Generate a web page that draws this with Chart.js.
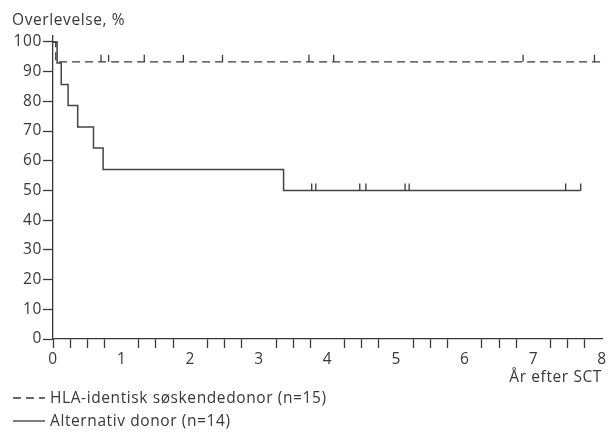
<!DOCTYPE html>
<html>
<head>
<meta charset="utf-8">
<script src="https://cdn.jsdelivr.net/npm/chart.js@4"></script>
<style>
  html, body { margin: 0; padding: 0; background: #fff; }
  #wrap { width: 610px; height: 432px; position: relative; }
</style>
</head>
<body>
<div id="wrap"><canvas id="chart"></canvas></div>
<script>
// Kaplan-Meier data (years after SCT, % survival)
const hlaTimes = [0, 0.04, 8];
const hlaSurv = [100, 93.3, 93.3];
const hlaCensored = [0.70, 0.81, 1.33, 1.90, 2.47, 3.73, 4.09, 6.85, 7.89];

const altTimes = [0, 0.06, 0.12, 0.22, 0.36, 0.59, 0.73, 3.36, 7.69];
const altSurv = [100, 92.9, 85.7, 78.6, 71.4, 64.3, 57.1, 50, 50];
const altCensored = [3.77, 3.83, 4.47, 4.56, 5.13, 5.19, 7.47, 7.69];

const yTicks = [0, 10, 20, 30, 40, 50, 60, 70, 80, 90, 100];
const xLabels = [0, 1, 2, 3, 4, 5, 6, 7, 8];

const legendLabels = ['HLA-identisk søskendedonor (n=15)', 'Alternativ donor (n=14)'];
const yTitle = 'Overlevelse, %';
const xTitle = 'År efter SCT';

const ink = '#383838';
const font = { family: "'Open Sans', 'Liberation Sans', sans-serif", size: 15.5 };
const spacing = '0.6px';

function survivalAt(times, surv, t) {
  let s = surv[0];
  for (let i = 0; i < times.length; i++) {
    if (times[i] <= t) s = surv[i];
  }
  return s;
}

// the reference typeface runs wider than Open Sans, so open it up a bit
const spacingPlugin = {
  id: 'spacing',
  beforeInit(chart) { chart.ctx.letterSpacing = spacing; },
  beforeDraw(chart) { chart.ctx.letterSpacing = spacing; },
};

// censor marks: small upward ticks on the curve
const censorPlugin = {
  id: 'censor',
  afterDatasetsDraw(chart) {
    const { ctx, scales: { x, y } } = chart;
    const groups = [
      { times: hlaTimes, surv: hlaSurv, marks: hlaCensored },
      { times: altTimes, surv: altSurv, marks: altCensored },
    ];
    ctx.save();
    ctx.strokeStyle = ink;
    ctx.lineWidth = 1.3;
    groups.forEach(g => {
      g.marks.forEach(t => {
        const px = x.getPixelForValue(t);
        const py = y.getPixelForValue(survivalAt(g.times, g.surv, t));
        ctx.beginPath();
        ctx.moveTo(px, py);
        ctx.lineTo(px, py - 7);
        ctx.stroke();
      });
    });
    ctx.restore();
  }
};

// y title at top-left and the two-row legend under the axis
const extrasPlugin = {
  id: 'extras',
  afterDraw(chart) {
    const ctx = chart.ctx;
    ctx.save();
    ctx.letterSpacing = spacing;
    ctx.fillStyle = ink;
    ctx.font = font.size + 'px ' + font.family;
    ctx.textBaseline = 'middle';
    ctx.textAlign = 'left';
    ctx.fillText(yTitle, 12, 21);

    const rows = [398, 421];
    chart.data.datasets.forEach((ds, i) => {
      ctx.strokeStyle = ink;
      ctx.lineWidth = 1.3;
      ctx.setLineDash(ds.borderDash || []);
      ctx.beginPath();
      ctx.moveTo(13, rows[i]);
      ctx.lineTo(45, rows[i]);
      ctx.stroke();
      ctx.setLineDash([]);
      ctx.fillText(legendLabels[i], 50, rows[i] + 1);
    });
    ctx.restore();
  }
};

new Chart(document.getElementById('chart'), {
  type: 'line',
  data: {
    datasets: [
      {
        label: legendLabels[0],
        data: hlaTimes.map((t, i) => ({ x: t, y: hlaSurv[i] })),
        stepped: 'before',
        borderColor: ink,
        borderWidth: 1.3,
        borderDash: [8, 5],
        pointRadius: 0,
        fill: false,
      },
      {
        label: legendLabels[1],
        data: altTimes.map((t, i) => ({ x: t, y: altSurv[i] })),
        stepped: 'before',
        borderColor: '#444',
        borderWidth: 1.5,
        pointRadius: 0,
        fill: false,
      },
    ]
  },
  options: {
    responsive: true,
    maintainAspectRatio: false,
    animation: false,
    layout: { padding: { left: 0, right: 8, top: 36, bottom: 45 } },
    plugins: {
      legend: { display: false },
      tooltip: { enabled: false },
    },
    scales: {
      x: {
        type: 'linear',
        min: 0,
        max: 8,
        afterFit: s => { s.height = 48; },
        border: { color: ink, width: 1.3 },
        grid: {
          drawOnChartArea: false,
          tickLength: 9,
          tickWidth: 1.3,
          // minor ticks every quarter year; integer years carry only a label
          tickColor: c => (c.tick && c.tick.value % 1 === 0 && c.tick.value !== 0) ? 'rgba(0,0,0,0)' : ink,
        },
        ticks: {
          stepSize: 0.25,
          autoSkip: false,
          maxRotation: 0,
          padding: 2,
          color: ink,
          font: font,
          callback: v => xLabels.includes(v) ? String(v) : '',
        },
        title: {
          display: true,
          text: xTitle,
          align: 'end',
          color: ink,
          font: font,
          padding: { top: 2, bottom: 0 },
        },
      },
      y: {
        min: 0,
        max: 102,
        afterFit: s => { s.width = 53; },
        afterBuildTicks: s => { s.ticks = yTicks.map(v => ({ value: v })); },
        border: { color: ink, width: 1.3 },
        grid: {
          drawOnChartArea: false,
          tickLength: 10,
          tickWidth: 1.3,
          tickColor: ink,
        },
        ticks: {
          stepSize: 10,
          padding: 1,
          color: ink,
          font: font,
        },
      },
    },
  },
  plugins: [spacingPlugin, censorPlugin, extrasPlugin],
});
</script>
</body>
</html>
